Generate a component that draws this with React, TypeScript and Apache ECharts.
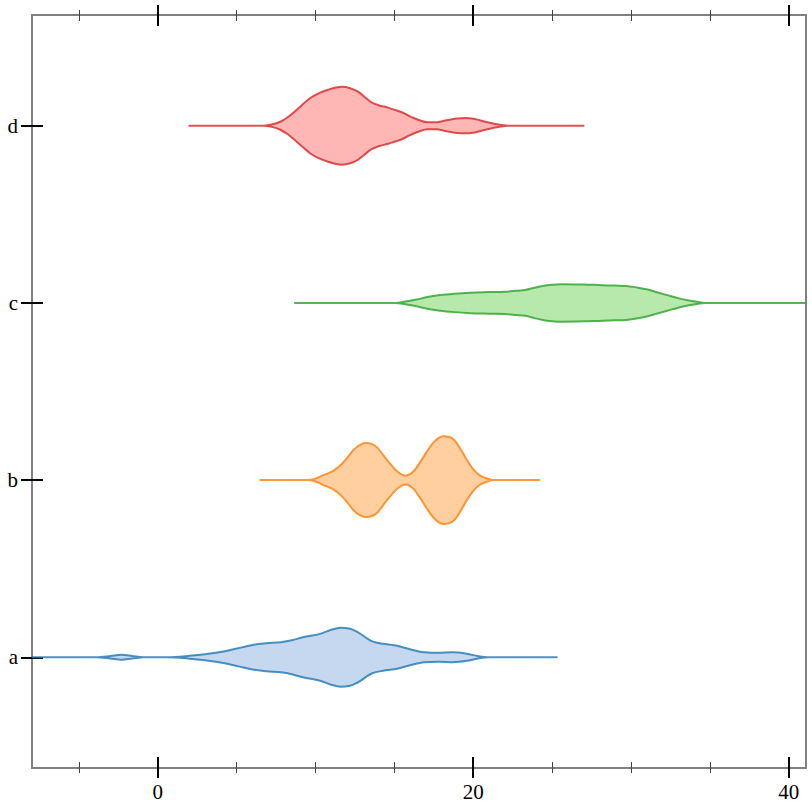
import React, { useEffect, useRef } from 'react';
import * as echarts from 'echarts';

const categories = ['a', 'b', 'c', 'd'];
const majorTicks = [0, 20, 40];
const minorTicks = [-5, 5, 10, 15, 25, 30, 35];
const xMin = -7.97;
const xMax = 41.1;
const yMin = -0.625;
const yMax = 3.625;

// violin outlines: positions along x and half-widths (in category units)
const aValues = [-9, -3.9, -3.0, -2.3, -1.6, -0.9, 0.6, 2.0, 3.0, 3.8, 4.8, 5.5, 6.1, 6.9, 7.8, 8.5, 9.2, 10.4, 11.0, 11.6, 12.2, 12.7, 13.6, 14.3, 15.0, 16.0, 16.9, 17.8, 18.7, 19.6, 20.3, 21.0, 25.3];
const aWidths = [0, 0, 0.007, 0.014, 0.007, 0, 0, 0.008, 0.017, 0.027, 0.045, 0.059, 0.071, 0.079, 0.085, 0.096, 0.113, 0.135, 0.155, 0.166, 0.161, 0.141, 0.09, 0.076, 0.068, 0.045, 0.028, 0.025, 0.028, 0.02, 0.007, 0, 0];

const bValues = [6.5, 9.5, 10.0, 10.5, 11.1, 11.6, 12.0, 12.4, 12.8, 13.2, 13.6, 13.9, 14.3, 14.7, 15.2, 15.7, 16.2, 16.6, 17.0, 17.5, 18.1, 18.5, 18.8, 19.2, 19.6, 20.0, 20.4, 20.9, 21.3, 24.2];
const bWidths = [0, 0, 0.008, 0.028, 0.051, 0.085, 0.124, 0.169, 0.198, 0.209, 0.203, 0.186, 0.141, 0.096, 0.048, 0.025, 0.048, 0.096, 0.152, 0.214, 0.248, 0.243, 0.226, 0.175, 0.113, 0.062, 0.028, 0.008, 0, 0];

const cValues = [8.7, 15.1, 15.7, 16.4, 17.1, 17.9, 18.8, 19.8, 21.0, 22.0, 22.7, 23.3, 23.9, 24.4, 25.0, 25.6, 27.0, 28.2, 29.0, 29.7, 30.4, 31.0, 31.7, 32.3, 33.0, 33.6, 34.2, 34.7, 43];
const cWidths = [0, 0, 0.008, 0.019, 0.033, 0.044, 0.052, 0.058, 0.061, 0.063, 0.068, 0.073, 0.086, 0.096, 0.103, 0.106, 0.104, 0.1, 0.098, 0.096, 0.087, 0.077, 0.059, 0.044, 0.027, 0.015, 0.006, 0, 0];

const dValues = [2.0, 6.7, 7.3, 7.8, 8.2, 8.6, 9.1, 9.7, 10.2, 10.8, 11.3, 11.7, 12.2, 12.7, 13.1, 13.5, 14.0, 14.6, 15.0, 15.4, 15.8, 16.2, 16.6, 17.1, 17.7, 18.1, 18.5, 19.0, 19.5, 20.0, 20.4, 20.9, 21.3, 21.8, 22.2, 27.0];
const dWidths = [0, 0, 0.008, 0.024, 0.045, 0.073, 0.113, 0.158, 0.183, 0.203, 0.216, 0.22, 0.212, 0.192, 0.164, 0.135, 0.116, 0.102, 0.09, 0.079, 0.062, 0.045, 0.031, 0.02, 0.02, 0.027, 0.034, 0.041, 0.043, 0.04, 0.031, 0.02, 0.011, 0.004, 0, 0];

const profileValues = [aValues, bValues, cValues, dValues];
const profileWidths = [aWidths, bWidths, cWidths, dWidths];

const strokeColors = ['#1f77b4', '#ff7f0e', '#2ca02c', '#d62728'];
const fillColors = ['#aec7e8', '#ffbb78', '#98df8a', '#ff9896'];

function rgba(hex: string, a: number) {
  const n = parseInt(hex.slice(1), 16);
  return `rgba(${(n >> 16) & 255},${(n >> 8) & 255},${n & 255},${a})`;
}

// monotone cubic (Fritsch-Carlson) segments for x-increasing pixel points
function monotoneSegments(pts: number[][]) {
  const n = pts.length;
  const sign = (v: number) => (v < 0 ? -1 : v > 0 ? 1 : 0);
  const t: number[] = new Array(n).fill(0);
  for (let k = 1; k < n - 1; k++) {
    const [x0, y0] = pts[k - 1];
    const [x1, y1] = pts[k];
    const [x2, y2] = pts[k + 1];
    const h0 = x1 - x0;
    const h1 = x2 - x1;
    const s0 = h0 ? (y1 - y0) / h0 : 0;
    const s1 = h1 ? (y2 - y1) / h1 : 0;
    const p = (s0 * h1 + s1 * h0) / (h0 + h1 || 1);
    t[k] = (sign(s0) + sign(s1)) * Math.min(Math.abs(s0), Math.abs(s1), 0.5 * Math.abs(p)) || 0;
  }
  const segs: number[][][] = [];
  for (let k = 0; k < n - 1; k++) {
    const [x0, y0] = pts[k];
    const [x1, y1] = pts[k + 1];
    const h = (x1 - x0) / 3;
    segs.push([pts[k], [x0 + h, y0 + h * t[k]], [x1 - h, y1 - h * t[k + 1]], pts[k + 1]]);
  }
  return segs;
}

const FONT = "'Liberation Serif', 'DejaVu Serif', serif";

function baseX(position: 'top' | 'bottom', extra: any) {
  return {
    type: 'value',
    gridIndex: 0,
    position,
    min: xMin,
    max: xMax,
    splitLine: { show: false },
    axisLabel: { show: false },
    ...extra,
    axisLine: { show: false, onZero: false, ...(extra.axisLine || {}) },
  };
}

export default function App() {
  const ref = useRef<HTMLDivElement>(null);
  useEffect(() => {
    if (!ref.current) return;
    const chart = echarts.init(ref.current, undefined, { renderer: 'svg' });
    const axisLineStyle = { color: '#808080', width: 2 };
    const majorStyle = { color: '#000', width: 2 };
    const minorStyle = { color: '#444', width: 1 };
    const xAxes: any[] = [];
    (['bottom', 'top'] as const).forEach((pos) => {
      xAxes.push(
        baseX(pos, {
          axisLine: { show: true, lineStyle: axisLineStyle },
          axisTick: { show: true, inside: false, length: 10, customValues: majorTicks, lineStyle: majorStyle },
          axisLabel:
            pos === 'bottom'
              ? { show: true, customValues: majorTicks, margin: 13, color: '#000', fontSize: 21, fontFamily: FONT }
              : { show: false },
        })
      );
      xAxes.push(baseX(pos, { axisTick: { show: true, inside: true, length: 11, customValues: majorTicks, lineStyle: majorStyle } }));
      xAxes.push(baseX(pos, { axisTick: { show: true, inside: false, length: 5, customValues: minorTicks, lineStyle: minorStyle } }));
      xAxes.push(baseX(pos, { axisTick: { show: true, inside: true, length: 6, customValues: minorTicks, lineStyle: minorStyle } }));
    });
    const catTicks = categories.map((_, i) => i);
    const yBase = { type: 'value', gridIndex: 0, min: yMin, max: yMax, splitLine: { show: false } };
    const yAxes: any[] = [
      {
        ...yBase,
        position: 'left',
        axisLine: { show: true, onZero: false, lineStyle: axisLineStyle },
        axisTick: { show: true, inside: false, length: 11, customValues: catTicks, lineStyle: majorStyle },
        axisLabel: {
          show: true,
          customValues: catTicks,
          margin: 14,
          color: '#000',
          fontSize: 21,
          fontFamily: FONT,
          formatter: (v: number) => categories[Math.round(v)] ?? '',
        },
      },
      {
        ...yBase,
        position: 'left',
        axisLine: { show: false, onZero: false },
        axisTick: { show: true, inside: true, length: 11, customValues: catTicks, lineStyle: majorStyle },
        axisLabel: { show: false },
      },
      {
        ...yBase,
        position: 'right',
        axisLine: { show: true, onZero: false, lineStyle: axisLineStyle },
        axisTick: { show: false },
        axisLabel: { show: false },
      },
    ];

    chart.setOption({
      animation: false,
      backgroundColor: '#fff',
      grid: { left: 32, right: 6, top: 15, bottom: 44, containLabel: false },
      xAxis: xAxes,
      yAxis: yAxes,
      series: [
        {
          type: 'custom',
          xAxisIndex: 0,
          yAxisIndex: 0,
          clip: true,
          data: categories.map((_, i) => [i]),
          renderItem: (params: any, api: any) => {
            const i = api.value(0);
            const xs = profileValues[i];
            const ws = profileWidths[i];
            const upper = xs.map((x, k) => api.coord([x, i + ws[k]]));
            const lower = xs.map((x, k) => api.coord([x, i - ws[k]]));
            const up = monotoneSegments(upper);
            const lo = monotoneSegments(lower).reverse();
            let d = `M${upper[0][0]},${upper[0][1]}`;
            up.forEach((s) => {
              d += ` C${s[1][0]},${s[1][1]} ${s[2][0]},${s[2][1]} ${s[3][0]},${s[3][1]}`;
            });
            d += ` L${lo[0][3][0]},${lo[0][3][1]}`;
            lo.forEach((s) => {
              d += ` C${s[2][0]},${s[2][1]} ${s[1][0]},${s[1][1]} ${s[0][0]},${s[0][1]}`;
            });
            d += ' Z';
            return {
              type: 'path',
              shape: { pathData: d },
              style: {
                fill: rgba(fillColors[i], 0.7),
                stroke: rgba(strokeColors[i], 0.8),
                lineWidth: 2,
                lineJoin: 'round',
              },
            };
          },
        },
      ],
    });
    return () => chart.dispose();
  }, []);
  return <div ref={ref} style={{ width: 812, height: 812, position: 'absolute', left: 0, top: 0 }} />;
}
